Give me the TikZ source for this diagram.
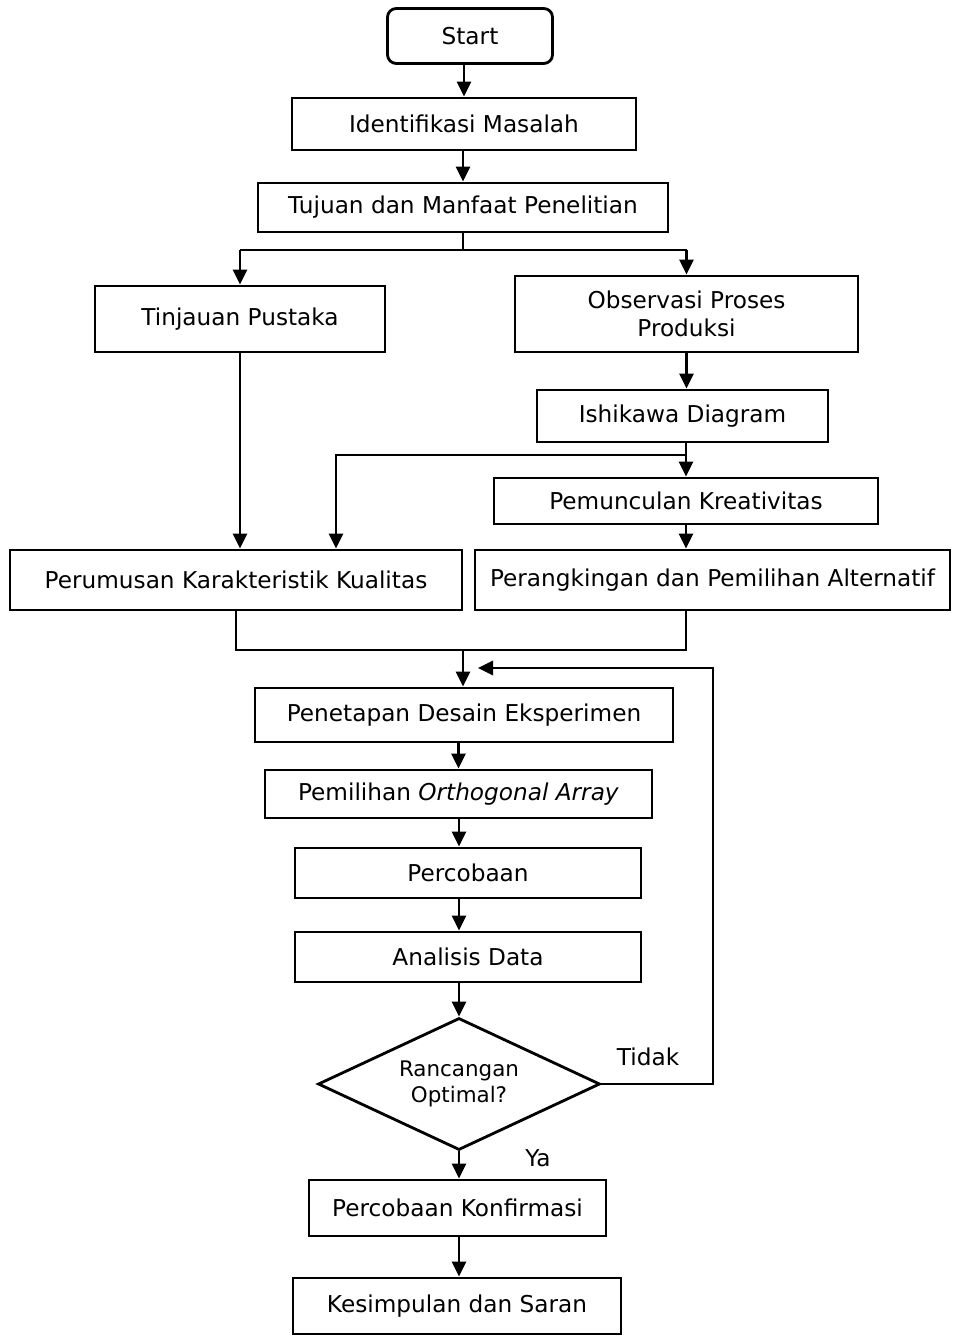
\documentclass[tikz,border=0pt]{standalone}
\usepackage{fontspec}
\setmainfont{DejaVu Sans}
\usetikzlibrary{shapes.geometric,arrows.meta}

\begin{document}
\begin{tikzpicture}[
  kotak/.style={draw,line width=1.6pt,inner sep=2pt,align=center,
    font=\fontsize{13.2}{16}\selectfont},
  panah/.style={line width=1.6pt,-{Triangle[length=3mm,width=2.8mm]}},
  garis/.style={line width=1.6pt}]
\useasboundingbox (0,0) rectangle (19.08,-26.74);
% kotak proses
\node[kotak,rounded corners=5pt,minimum width=3.30cm,minimum height=1.10cm] (start) at (9.40,-0.72) {Start};
\node[kotak,minimum width=6.88cm,minimum height=1.04cm] (ident) at (9.28,-2.48) {Identifikasi Masalah};
\node[kotak,minimum width=8.20cm,minimum height=0.98cm] (tujuan) at (9.26,-4.15) {Tujuan dan Manfaat Penelitian};
\node[kotak,minimum width=5.80cm,minimum height=1.32cm] (tinjauan) at (4.80,-6.38) {Tinjauan Pustaka};
\node[kotak,minimum width=6.86cm,minimum height=1.52cm] (observasi) at (13.73,-6.28) {Observasi Proses\\Produksi};
\node[kotak,minimum width=5.82cm,minimum height=1.04cm] (ishikawa) at (13.65,-8.32) {Ishikawa Diagram};
\node[kotak,minimum width=7.68cm,minimum height=0.92cm] (pemunculan) at (13.72,-10.02) {Pemunculan Kreativitas};
\node[kotak,minimum width=9.04cm,minimum height=1.20cm] (perumusan) at (4.72,-11.60) {Perumusan Karakteristik Kualitas};
\node[kotak,minimum width=9.50cm,minimum height=1.20cm] (perankingan) at (14.25,-11.60) {Perangkingan dan Pemilihan Alternatif};
\node[kotak,minimum width=8.36cm,minimum height=1.08cm] (penetapan) at (9.28,-14.30) {Penetapan Desain Eksperimen};
\node[kotak,minimum width=7.74cm,minimum height=0.96cm] (pemilihan) at (9.17,-15.88) {Pemilihan \textit{Orthogonal Array}};
\node[kotak,minimum width=6.92cm,minimum height=1.00cm] (percobaan) at (9.36,-17.46) {Percobaan};
\node[kotak,minimum width=6.92cm,minimum height=1.00cm] (analisis) at (9.36,-19.14) {Analisis Data};
\node[kotak,diamond,inner sep=0pt,aspect=2.1,minimum width=5.64cm,minimum height=2.64cm,
  font=\fontsize{12.2}{15}\selectfont] (keputusan) at (9.18,-21.68) {Rancangan\\Optimal?};
\node[kotak,minimum width=5.94cm,minimum height=1.12cm] (konfirmasi) at (9.15,-24.16) {Percobaan Konfirmasi};
\node[kotak,minimum width=6.56cm,minimum height=1.12cm] (kesimpulan) at (9.14,-26.12) {Kesimpulan dan Saran};

% titik bantu
\coordinate (cabang) at (9.26,-5.00);
\coordinate (kiri) at (6.72,-9.10);
\coordinate (gabung) at (9.26,-13.00);
\coordinate (balik) at (14.26,-13.36);

% alur
\draw[panah] (start.south -| ident.north) -- (ident.north);
\draw[panah] (ident.south -| tujuan.north) -- (tujuan.north);
\draw[garis] (tujuan.south) -- (cabang);
\draw[garis] (tinjauan.north |- cabang) -- (observasi.north |- cabang);
\draw[panah] (tinjauan.north |- cabang) -- (tinjauan.north);
\draw[panah] (observasi.north |- cabang) -- (observasi.north);
\draw[panah] (observasi.south) -- (observasi.south |- ishikawa.north);
\draw[panah] (ishikawa.south -| pemunculan.north) -- (pemunculan.north);
\draw[panah] (pemunculan.north |- kiri) -- (kiri) -- (kiri |- perumusan.north);
\draw[panah] (tinjauan.south) -- (tinjauan.south |- perumusan.north);
\draw[panah] (pemunculan.south) -- (pemunculan.south |- perankingan.north);
\draw[garis] (perumusan.south) -- (perumusan.south |- gabung) -- (pemunculan.south |- gabung)
  -- (pemunculan.south |- perankingan.south);
\draw[panah] (gabung) -- (gabung |- penetapan.north);
\draw[panah] (penetapan.south -| pemilihan.north) -- (pemilihan.north);
\draw[panah] (pemilihan.south -| keputusan.north) -- (percobaan.north -| keputusan.north);
\draw[panah] (percobaan.south -| keputusan.north) -- (analisis.north -| keputusan.north);
\draw[panah] (analisis.south -| keputusan.north) -- (keputusan.north);
\draw[panah] (keputusan.south) -- (keputusan.south |- konfirmasi.north);
\draw[panah] (konfirmasi.south -| keputusan.south) -- (kesimpulan.north -| keputusan.south);
\draw[panah] (keputusan.east) -| (balik) -- (9.56,-13.36);

% label
\node[font=\fontsize{13.2}{16}\selectfont] (ya) at (10.76,-23.16) {Ya};
\node[font=\fontsize{13.2}{16}\selectfont] (tidak) at (12.96,-21.14) {Tidak};
\end{tikzpicture}
\end{document}
